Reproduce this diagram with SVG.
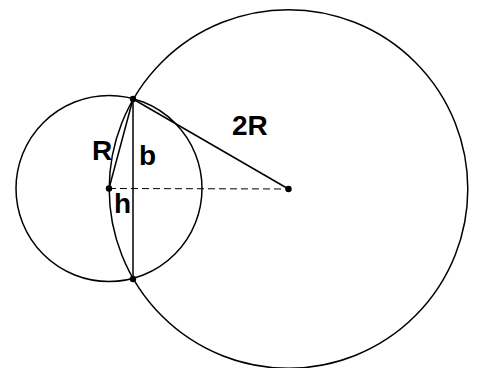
<svg xmlns="http://www.w3.org/2000/svg" width="477" height="368" viewBox="0 0 477 368">
<style>
.c{fill:none;stroke:#000;stroke-width:1.5}
.l{stroke:#000;stroke-width:1.5;fill:none}
.d{stroke:#000;stroke-width:1;stroke-dasharray:7,4;fill:none}
.p{fill:#000}
.t{font-family:"Liberation Sans",Arial,sans-serif;font-weight:bold;font-size:28px;fill:#000}
</style>
<rect width="477" height="368" fill="#fff"/>
<g id="small-circle"><circle class="c" cx="109" cy="188.5" r="93"/></g>
<g id="large-circle"><circle class="c" cx="288.5" cy="189" r="179.3"/></g>
<g id="connectors">
<line class="d" x1="109" y1="188.5" x2="288.5" y2="189"/>
<line class="l" x1="133" y1="99" x2="133" y2="279"/>
<line class="l" x1="133" y1="99" x2="109" y2="188.5"/>
<line class="l" x1="133" y1="99" x2="288.5" y2="189"/>
</g>
<g id="points">
<circle class="p" cx="133" cy="99" r="3.2"/>
<circle class="p" cx="133" cy="279" r="3.2"/>
<circle class="p" cx="109" cy="188.5" r="3.2"/>
<circle class="p" cx="288.5" cy="189" r="3.2"/>
</g>
<g id="labels">
<text class="t" x="92" y="160">R</text>
<text class="t" x="139" y="165">b</text>
<text class="t" x="114" y="213">h</text>
<text class="t" x="232" y="135">2R</text>
</g>
</svg>
